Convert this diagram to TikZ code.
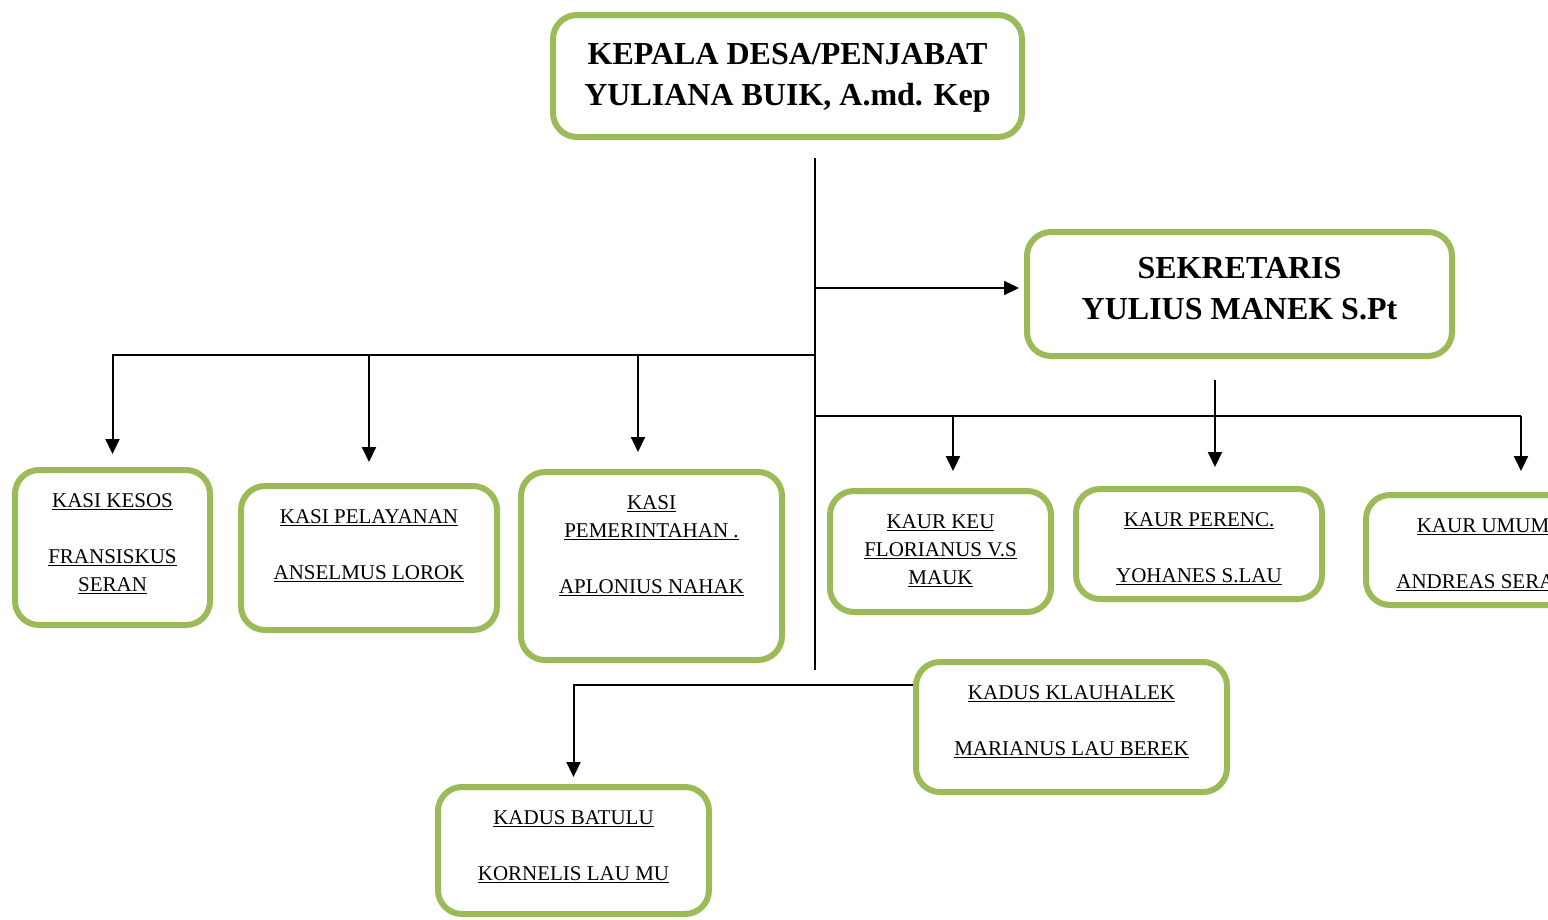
\documentclass[tikz,border=0pt]{standalone}
\usepackage{fontspec}
\setmainfont{Liberation Serif}
\usetikzlibrary{arrows.meta,positioning}
\definecolor{boxgreen}{RGB}{155,187,89}
% text of a box: width, height, lines (top aligned)
\newcommand{\boxtext}[3]{\parbox[c][#2][t]{#1}{\centering\vspace*{18pt}\strut #3}}

\begin{document}
\begin{tikzpicture}[x=1pt,y=-1pt,
    orgbox/.style={draw=boxgreen,line width=6pt,rounded corners=24pt,inner sep=0pt,
      font=\fontsize{21}{28}\selectfont},
    headbox/.style={orgbox,align=center,font=\fontsize{32}{41}\selectfont\bfseries},
    conn/.style={line width=2pt},
    link/.style={conn,-{Triangle[length=15pt,width=14pt]}}]
\useasboundingbox (0,0) rectangle (1548,919);
\clip (0,0) rectangle (1548,919);

% top
\node[headbox,minimum width=469pt,minimum height=122pt,text depth=4pt] (kepala) at (787.5,76)
  {KEPALA DESA/PENJABAT\\YULIANA BUIK, A.md. Kep};
\node[headbox,minimum width=425pt,minimum height=124pt,text depth=12pt] (sekretaris) at (1239.5,294)
  {SEKRETARIS\\YULIUS MANEK S.Pt};

% kasi
\node[orgbox] (kesos) at (112.5,547.5)
  {\boxtext{195pt}{155pt}{\underline{KASI KESOS}\\[28pt]\underline{FRANSISKUS}\\\underline{SERAN}}};
\node[orgbox] (pelayanan) at (369,558)
  {\boxtext{256pt}{144pt}{\underline{KASI PELAYANAN}\\[28pt]\underline{ANSELMUS LOROK}}};
\node[orgbox] (pemerintahan) at (651.5,566)
  {\boxtext{261pt}{188pt}{\underline{KASI}\\\underline{PEMERINTAHAN .}\\[28pt]\underline{APLONIUS NAHAK}}};

% kaur
\node[orgbox] (keu) at (940.5,551.5)
  {\boxtext{221pt}{121pt}{\underline{KAUR KEU}\\\underline{FLORIANUS V.S}\\\underline{MAUK}}};
\node[orgbox] (perenc) at (1199,544)
  {\boxtext{246pt}{110pt}{\underline{KAUR PERENC.}\\[28pt]\underline{YOHANES S.LAU}}};
\node[orgbox] (umum) at (1483,550)
  {\boxtext{234pt}{110pt}{\underline{KAUR UMUM}\\[28pt]\underline{ANDREAS SERAN}}};

% kadus
\node[orgbox] (klauhalek) at (1071.5,727)
  {\boxtext{311pt}{130pt}{\underline{KADUS KLAUHALEK}\\[28pt]\underline{MARIANUS LAU BEREK}}};
\node[orgbox] (batulu) at (573.5,850.5)
  {\boxtext{271pt}{127pt}{\underline{KADUS BATULU}\\[28pt]\underline{KORNELIS LAU MU}}};

\coordinate (trunktop) at (815,158);
\coordinate (trunkend) at (815,670);
\coordinate (sekjoin) at (815,288);
\coordinate (kasibar) at (112,355);
\coordinate (kaurbar) at (815,416);
\coordinate (kadusbar) at (573,685);
\coordinate (pemtop) at ([xshift=-13.5pt]pemerintahan.north);
\coordinate (keutop) at ([xshift=12.5pt]keu.north);
\coordinate (perenctop) at ([xshift=16pt]perenc.north);
\coordinate (umumtop) at ([xshift=38pt]umum.north);

\draw[conn] (trunktop) -- (trunkend);
\draw[link,shorten >=5pt] (sekjoin) -- (sekjoin -| sekretaris.west);

\draw[conn] (kasibar) -- (kasibar -| trunktop);
\draw[link,shorten >=13pt] (kasibar -| kesos.north) -- (kesos.north);
\draw[link,shorten >=21pt] (kasibar -| pelayanan.north) -- (pelayanan.north);
\draw[link,shorten >=17pt] (pemtop |- kasibar) -- (pemtop);

\draw[conn] (kaurbar) -- (kaurbar -| umumtop);
\draw[link,shorten >=17pt] (keutop |- kaurbar) -- (keutop);
\draw[link,shorten <=21pt,shorten >=19pt] (perenctop |- sekretaris.south) -- (perenctop);
\draw[link,shorten >=21pt] (umumtop |- kaurbar) -- (umumtop);

\draw[link,shorten >=7pt] (klauhalek.west |- kadusbar) -| (batulu.north);
\end{tikzpicture}
\end{document}
